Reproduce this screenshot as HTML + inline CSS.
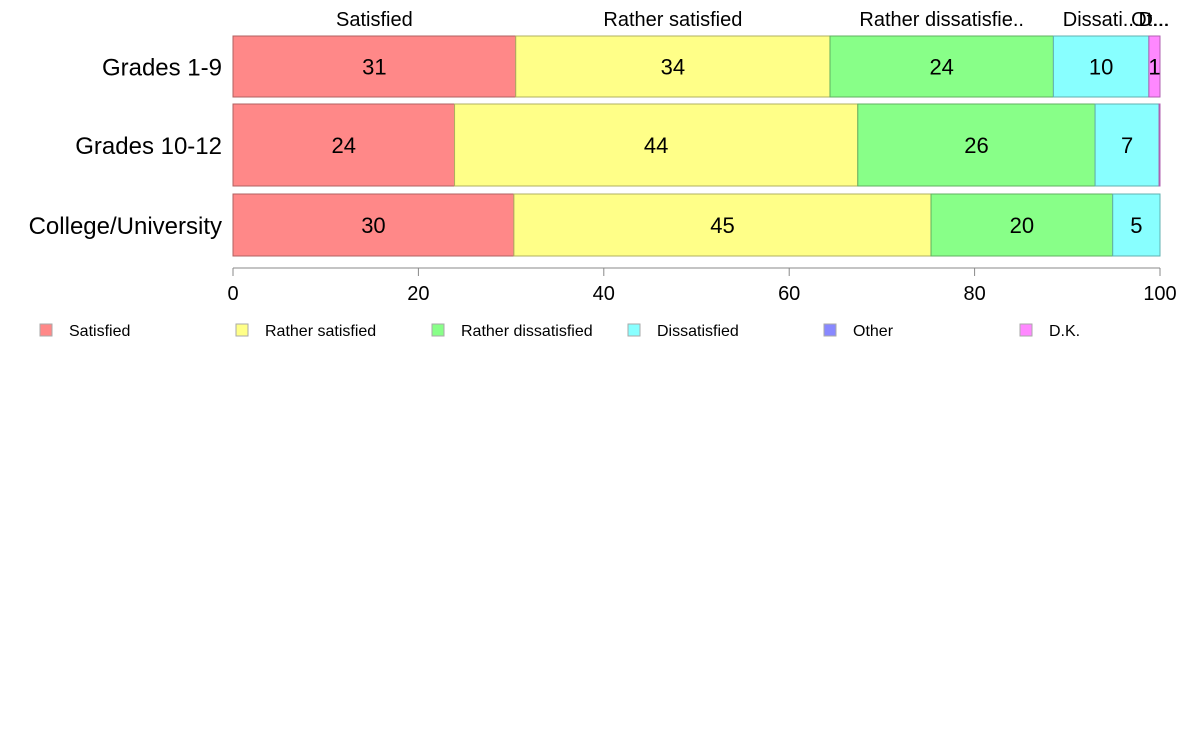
<!DOCTYPE html>
<html><head><meta charset="utf-8"><style>
body{margin:0;background:#fff;font-family:"Liberation Sans",Arial,sans-serif;}
svg text{font-family:"Liberation Sans",Arial,sans-serif;}
</style></head><body>
<svg id="chart" width="1188" height="736" xmlns="http://www.w3.org/2000/svg"></svg>
<script>
const categories = ["Grades 1-9","Grades 10-12","College/University"];
const seriesNames = ["Satisfied","Rather satisfied","Rather dissatisfied","Dissatisfied","Other","D.K."];
const satisfied = [30.5, 23.9, 30.3];
const ratherSatisfied = [33.9, 43.5, 45.0];
const ratherDissatisfied = [24.1, 25.6, 19.6];
const dissatisfied = [10.3, 6.9, 5.1];
const other = [0, 0, 0];
const dk = [1.2, 0.1, 0];
const xTicks = [0,20,40,60,80,100];
const topLabels = ["Satisfied","Rather satisfied","Rather dissatisfie..","Dissati...","Ot...","D..."];

const colors = ["#ff8888","#ffff88","#88ff88","#88ffff","#8888ff","#ff88ff"];
const strokes = ["#b06060","#b0b060","#60b060","#60b0b0","#6060b0","#b060b0"];
const series = [satisfied, ratherSatisfied, ratherDissatisfied, dissatisfied, other, dk];
const rows = [[36,97],[104,186],[194,256]];
const x = v => 233 + v * (1160-233) / 100;
const svg = document.getElementById('chart');
const NS = "http://www.w3.org/2000/svg";
function mk(tag, attrs, txt){const e=document.createElementNS(NS,tag);for(const k in attrs)e.setAttribute(k,attrs[k]);if(txt!==undefined)e.textContent=txt;svg.appendChild(e);return e;}

categories.forEach((c,i)=>{
  const [y0,y1]=rows[i];
  let acc=0;
  series.forEach((s,j)=>{
    const v=s[i];
    if(v>0){
      const r=mk('rect',{x:x(acc),y:y0,width:x(acc+v)-x(acc),height:y1-y0,fill:colors[j],stroke:strokes[j],'stroke-width':1});
      
      
      if(Math.round(v)>=1 && x(acc+v)-x(acc)>8){
        const t=mk('text',{x:(x(acc)+x(acc+v))/2,y:(y0+y1)/2+8,'text-anchor':'middle','font-size':22,fill:'#000'},Math.round(v));
        
        
      }
    }
    if(i===0){
      const cx=(x(acc)+x(acc+v))/2;
      const t=mk('text',{x:j===4?1150:(j===5?1154:cx),y:26,'text-anchor':'middle','font-size':20,fill:'#000'},topLabels[j]);
      
      
    }
    acc+=v;
  });
  const l=mk('text',{x:222,y:(y0+y1)/2+9,'text-anchor':'end','font-size':24,fill:'#000'},c);
  
  
});
const ax=mk('line',{x1:233,x2:1160,y1:268,y2:268,stroke:'#888','stroke-width':1});


xTicks.forEach(t=>{
  const tk=mk('line',{x1:x(t),x2:x(t),y1:268,y2:276,stroke:'#888'});
  
  
  const tl=mk('text',{x:x(t),y:300,'text-anchor':'middle','font-size':20,fill:'#000'},t);
  
  
});
seriesNames.forEach((n,j)=>{
  const lx=40+j*196;
  const r=mk('rect',{x:lx,y:324,width:12,height:12,fill:colors[j],stroke:'#aaa'});
  
  
  const t=mk('text',{x:lx+29,y:336,'font-size':16,fill:'#000'},n);
  
  
});
</script>
</body></html>
